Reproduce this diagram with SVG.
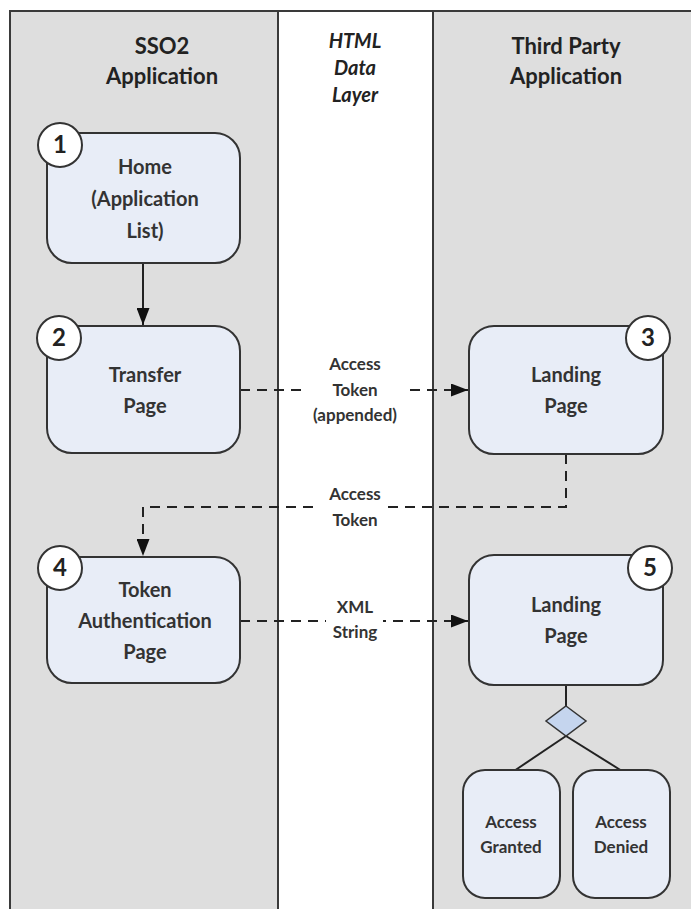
<svg xmlns="http://www.w3.org/2000/svg" width="691" height="909" viewBox="0 0 691 909">
<style>
.lane{fill:#dedede;stroke:#3a3a3a;stroke-width:2}
.mid{fill:#ffffff;stroke:#3a3a3a;stroke-width:2}
.hdr{font-family:Lato,"Open Sans",sans-serif;font-weight:bold;font-size:22px;fill:#222;text-anchor:middle}
.hdri{font-family:Lato,"Open Sans",sans-serif;font-weight:bold;font-style:italic;font-size:20px;fill:#222;text-anchor:middle}
.box{fill:#e8edf7;stroke:#333;stroke-width:2}
.t{font-family:Lato,"Open Sans",sans-serif;font-weight:bold;font-size:20px;fill:#333;text-anchor:middle}
.ts{font-family:Lato,"Open Sans",sans-serif;font-weight:bold;font-size:17px;fill:#333;text-anchor:middle}
.lbl{font-family:Lato,"Open Sans",sans-serif;font-weight:bold;font-size:17px;fill:#333;text-anchor:middle}
.num{fill:#ffffff;stroke:#333;stroke-width:2}
.nt{font-family:Lato,"Open Sans",sans-serif;font-weight:bold;font-size:24px;fill:#222;text-anchor:middle}
.solid{fill:none;stroke:#222;stroke-width:2}
.dash{fill:none;stroke:#222;stroke-width:2;stroke-dasharray:10,7}
</style>
<defs>
<marker id="arr" viewBox="0 0 17 13" refX="17" refY="6.5" markerWidth="17" markerHeight="13" markerUnits="userSpaceOnUse" orient="auto">
<path d="M0,0 L17,6.5 L0,13 z" fill="#111"/>
</marker>
</defs>
<rect width="691" height="909" fill="#ffffff"/>
<g id="lanes">
<rect class="lane" x="10" y="11" width="268" height="910"/>
<rect class="mid" x="278" y="11" width="155" height="910"/>
<rect class="lane" x="433" y="11" width="270" height="910"/>
<text class="hdr" x="162" y="54">SSO2</text>
<text class="hdr" x="162" y="84">Application</text>
<text class="hdri" x="355" y="48">HTML</text>
<text class="hdri" x="355" y="75">Data</text>
<text class="hdri" x="355" y="102">Layer</text>
<text class="hdr" x="566" y="54">Third Party</text>
<text class="hdr" x="566" y="84">Application</text>
</g>
<g id="connectors">
<line class="solid" x1="143" y1="263" x2="143" y2="325" marker-end="url(#arr)"/>
<line class="dash" x1="240" y1="390" x2="468" y2="390" marker-end="url(#arr)"/>
<polyline class="dash" points="566,454 566,507 143,507 143,556" marker-end="url(#arr)"/>
<line class="dash" x1="240" y1="621" x2="468" y2="621" marker-end="url(#arr)"/>
<line class="solid" x1="566" y1="685" x2="566" y2="706"/>
<line class="solid" x1="566" y1="736" x2="514" y2="771"/>
<line class="solid" x1="566" y1="736" x2="622" y2="771"/>
<rect x="303" y="380" width="104" height="20" fill="#ffffff"/>
<text class="lbl" x="355" y="370">Access</text>
<text class="lbl" x="355" y="396">Token</text>
<text class="lbl" x="355" y="421">(appended)</text>
<rect x="316" y="497" width="68" height="20" fill="#ffffff"/>
<text class="lbl" x="355" y="500">Access</text>
<text class="lbl" x="355" y="526">Token</text>
<rect x="326" y="611" width="57" height="20" fill="#ffffff"/>
<text class="lbl" x="355" y="613">XML</text>
<text class="lbl" x="355" y="638">String</text>
</g>
<g id="n1">
<rect class="box" x="47" y="133" width="193" height="130" rx="25"/>
<circle class="num" cx="60" cy="145" r="22"/>
<text class="nt" x="60" y="153">1</text>
<text class="t" x="145" y="174">Home</text>
<text class="t" x="145" y="206">(Application</text>
<text class="t" x="145" y="238">List)</text>
</g>
<g id="n2">
<rect class="box" x="47" y="326" width="193" height="127" rx="25"/>
<circle class="num" cx="59" cy="338" r="22"/>
<text class="nt" x="59" y="346">2</text>
<text class="t" x="145" y="382">Transfer</text>
<text class="t" x="145" y="413">Page</text>
</g>
<g id="n3">
<rect class="box" x="469" y="326" width="194" height="128" rx="25"/>
<circle class="num" cx="648" cy="338" r="22"/>
<text class="nt" x="648" y="346">3</text>
<text class="t" x="566" y="382">Landing</text>
<text class="t" x="566" y="413">Page</text>
</g>
<g id="n4">
<rect class="box" x="47" y="557" width="193" height="126" rx="25"/>
<circle class="num" cx="60" cy="568" r="22"/>
<text class="nt" x="60" y="576">4</text>
<text class="t" x="145" y="597">Token</text>
<text class="t" x="145" y="628">Authentication</text>
<text class="t" x="145" y="659">Page</text>
</g>
<g id="n5">
<rect class="box" x="469" y="555" width="194" height="130" rx="25"/>
<circle class="num" cx="650" cy="568" r="22"/>
<text class="nt" x="650" y="576">5</text>
<text class="t" x="566" y="612">Landing</text>
<text class="t" x="566" y="643">Page</text>
</g>
<g id="decision">
<polygon points="566,706 586,721 566,736 546,721" fill="#c5d5ee" stroke="#333" stroke-width="1.5"/>
</g>
<g id="granted">
<rect class="box" x="463" y="770" width="97" height="128" rx="22"/>
<text class="ts" x="511" y="828">Access</text>
<text class="ts" x="511" y="853">Granted</text>
</g>
<g id="denied">
<rect class="box" x="573" y="770" width="97" height="128" rx="22"/>
<text class="ts" x="621" y="828">Access</text>
<text class="ts" x="621" y="853">Denied</text>
</g>
</svg>
